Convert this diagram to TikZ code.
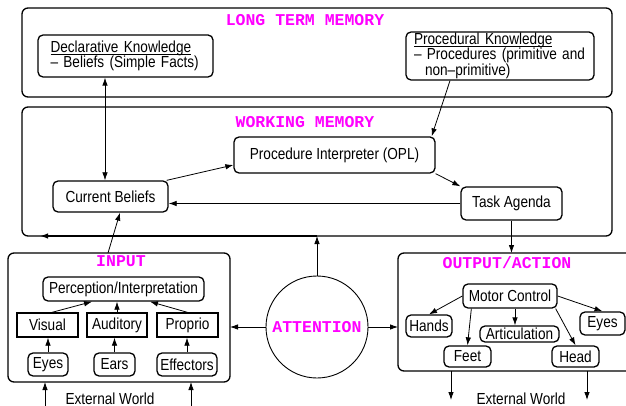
\documentclass[tikz,border=0pt]{standalone}
\usepackage{fontspec}
\usetikzlibrary{arrows.meta,calc}
\newfontfamily\helv[FakeStretch=0.85]{Liberation Sans}
\newfontfamily\courb{Liberation Mono}
\definecolor{titlemagenta}{RGB}{255,0,255}
\newcommand{\headline}[1]{\underline{\raisebox{0pt}[\height][0pt]{#1}}}

\begin{document}
\begin{tikzpicture}[x=1pt, y=-1pt,
    every node/.style={font=\helv\fontsize{16}{14.5}\selectfont},
    bigbox/.style={draw, line width=1.3pt, rounded corners=6pt, inner sep=0pt, outer sep=0pt},
    roundbox/.style={draw, line width=1.3pt, rounded corners=5pt, inner sep=0pt},
    sensebox/.style={draw, line width=1.3pt, inner sep=0pt},
    title/.style={text=titlemagenta, font=\courb\bfseries\fontsize{16.5}{18}\selectfont},
    flow/.style={-{Latex[length=8pt,width=5.5pt]}, line width=0.8pt},
    twoway/.style={{Latex[length=8pt,width=5.5pt]}-{Latex[length=8pt,width=5.5pt]}, line width=0.8pt}]
    \useasboundingbox (0,0) rectangle (626,406);
    \clip (0,0) rectangle (626,406);

    % Long term memory
    \node[bigbox, minimum width=590pt, minimum height=89pt] (ltm) at (317,52.5) {};
    \node[title] (ltmtitle) at (305,20) {LONG TERM MEMORY};
    \node[roundbox, minimum width=175pt, minimum height=42pt, text width=150pt, align=left] (decl) at (125.5,56) {\headline{Declarative Knowledge}\\– Beliefs (Simple Facts)};
    \node[roundbox, minimum width=188pt, minimum height=48pt, text width=172pt, align=left] (proc) at (500,56) {\headline{Procedural Knowledge}\\– Procedures (primitive and\\\hspace*{11pt}non–primitive)};

    % Working memory
    \node[bigbox, minimum width=590pt, minimum height=129pt] (wm) at (317,171.5) {};
    \node[title] (wmtitle) at (305,122) {WORKING MEMORY};
    \node[roundbox, minimum width=201pt, minimum height=36pt] (opl) at (334.5,155) {Procedure Interpreter (OPL)};
    \node[roundbox, minimum width=115pt, minimum height=31pt] (cb) at (110.5,196.5) {Current Beliefs};
    \node[roundbox, minimum width=101pt, minimum height=33pt] (ta) at (511.5,203.5) {Task Agenda};

    % Input
    \node[bigbox, minimum width=222pt, minimum height=129pt] (inp) at (119,317.5) {};
    \node[title] (inptitle) at (121,261) {INPUT};
    \node[roundbox, minimum width=161pt, minimum height=24pt] (perc) at (123.5,289) {Perception/Interpretation};
    \node[sensebox, minimum width=61pt, minimum height=24pt] (vis) at (47.5,325) {Visual};
    \node[sensebox, minimum width=60pt, minimum height=24pt] (aud) at (117,325) {Auditory};
    \node[sensebox, minimum width=61pt, minimum height=24pt] (prop) at (187.5,325) {Proprio};
    \node[roundbox, minimum width=40pt, minimum height=23pt] (eyes) at (48,364.5) {Eyes};
    \node[roundbox, minimum width=41pt, minimum height=23pt] (ears) at (114.5,364.5) {Ears};
    \node[roundbox, minimum width=60pt, minimum height=23pt] (eff) at (187,364.5) {Effectors};

    % Attention
    \node[draw, circle, line width=0.9pt, minimum size=102pt, inner sep=0pt, title] (att) at (317,327) {ATTENTION};

    % Output
    \node[bigbox, minimum width=240pt, minimum height=118pt] (out) at (518,312) {};
    \node[title] (outtitle) at (507,263) {OUTPUT/ACTION};
    \node[roundbox, minimum width=94pt, minimum height=24pt] (mc) at (510,296) {Motor Control};
    \node[roundbox, minimum width=46pt, minimum height=22pt] (hands) at (429,326) {Hands};
    \node[roundbox, minimum width=79pt, minimum height=16pt] (artic) at (519.5,334) {Articulation};
    \node[roundbox, minimum width=45pt, minimum height=23pt] (oeyes) at (602.5,323.5) {Eyes};
    \node[roundbox, minimum width=47pt, minimum height=21pt] (feet) at (467.5,356.5) {Feet};
    \node[roundbox, minimum width=47pt, minimum height=21pt] (head) at (575.5,356.5) {Head};

    % External world
    \node[anchor=base, inner sep=0pt] (worldin) at (110,404) {External World};
    \node[anchor=base, inner sep=0pt] (worldout) at (521,404) {External World};
    \coordinate (inl) at (45,410);
    \coordinate (inr) at (191,410);
    \coordinate (outl) at (451,400);
    \coordinate (outr) at (587,400);

    % Connectors
    \draw[twoway] ([xshift=-20.5pt]decl.south) -- ([xshift=-5.5pt]cb.north);
    \draw[flow] ([xshift=-50pt]proc.south) -- ([xshift=-4pt]opl.north east);
    \draw[flow] ([xshift=-2pt]cb.north east) -- ([yshift=-10pt]opl.west);
    \draw[flow] (opl.south east) -- (ta.north west);
    \draw[flow] (ta.west) -- (ta.west -| cb.east);
    \draw[flow] ([xshift=-11pt]inp.north) -- ([xshift=9.5pt]cb.south);
    \draw[flow] (ta.south) -- (ta.south |- out.north);
    \draw[flow] (att.north) -- (att.north |- wm.south);
    \draw[flow, line width=1.3pt] (att.north |- wm.south) -- ([xshift=18pt]wm.south west);
    \draw[flow] (att.west) -- (att.west -| inp.east);
    \draw[flow] (att.east) -- (att.east -| out.west);

    \draw[flow] ([xshift=4.5pt]vis.north) -- ([xshift=-31.5pt]perc.south);
    \draw[flow] (aud.north) -- (aud.north |- perc.south);
    \draw[flow] (prop.north) -- ([xshift=26.5pt]perc.south);
    \draw[flow] (eyes.north) -- (eyes.north |- vis.south);
    \draw[flow] (ears.north) -- (ears.north |- aud.south);
    \draw[flow] (eff.north) -- (eff.north |- prop.south);

    \draw[flow] (mc.west) -- (hands.north);
    \draw[flow] ([xshift=9pt]mc.south west) -- (feet.north);
    \draw[flow] ([xshift=5pt]mc.south) -- ([xshift=-4.5pt]artic.north);
    \draw[flow] ([xshift=-2pt]mc.south east) -- (head.north);
    \draw[flow] (mc.east) -- (oeyes.north);

    \draw[flow] (inl) -- (inl |- inp.south);
    \draw[flow] (inr) -- (inr |- inp.south);
    \draw[flow] (outl |- out.south) -- (outl);
    \draw[flow] (outr |- out.south) -- (outr);
\end{tikzpicture}
\end{document}
